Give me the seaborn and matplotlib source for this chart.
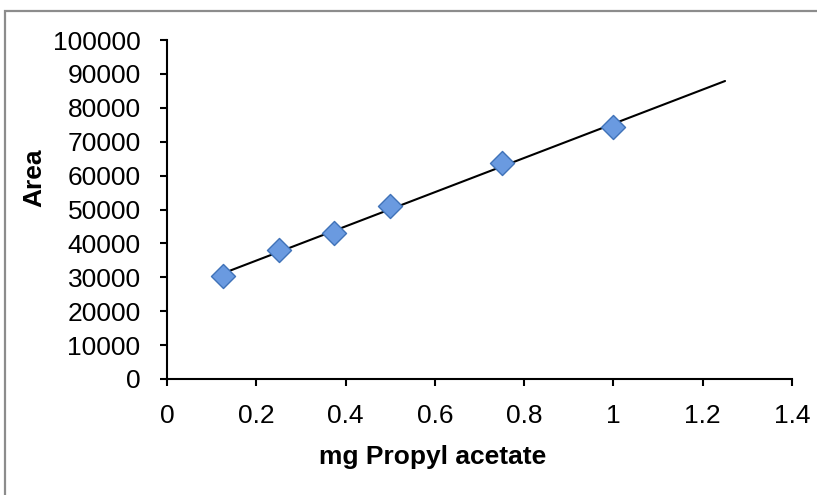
import numpy as np
import pandas as pd
import matplotlib
matplotlib.use("Agg")
import matplotlib.pyplot as plt
import seaborn as sns
from matplotlib.patches import Rectangle

mg_propyl_acetate = [0.125, 0.25, 0.375, 0.5, 0.75, 1.0]
area = [30400, 38000, 43000, 51000, 63700, 74300]
trend_x_end = 1.25
x_ticks = [0, 0.2, 0.4, 0.6, 0.8, 1, 1.2, 1.4]
x_tick_labels = ["0", "0.2", "0.4", "0.6", "0.8", "1", "1.2", "1.4"]
y_ticks = list(range(0, 100001, 10000))
y_tick_labels = [str(v) for v in y_ticks]

sns.set_theme(style="white")
plt.rcParams['font.family'] = ['Liberation Sans', 'DejaVu Sans']
plt.rcParams['text.color'] = 'black'
plt.rcParams['axes.labelcolor'] = 'black'

df = pd.DataFrame({"x": mg_propyl_acetate, "y": area})

fig = plt.figure(figsize=(8.17, 4.95), dpi=100)
ax = fig.add_axes([167/817, 1-379/495, (792-167)/817, (379-40)/495])

# trendline (linear regression, extended forward)
slope, intercept = np.polyfit(df["x"], df["y"], 1)
tx = np.array([min(mg_propyl_acetate), trend_x_end])
sns.lineplot(x=tx, y=slope*tx + intercept, ax=ax, color="black", linewidth=1.5, zorder=2)

sns.scatterplot(data=df, x="x", y="y", ax=ax, marker="D", s=150,
                color="#6a9ae0", edgecolor="#3f72b8", linewidth=1.0, zorder=3)

ax.set_xlim(0, 1.4)
ax.set_ylim(0, 100000)
ax.set_xticks(x_ticks)
ax.set_xticklabels(x_tick_labels)
ax.set_yticks(y_ticks)
ax.set_yticklabels(y_tick_labels)
ax.tick_params(axis="both", which="major", direction="out", length=5, width=1.5,
               color="black", labelsize=19, labelcolor="black")
ax.tick_params(axis="y", pad=14)
ax.tick_params(axis="x", pad=13)
ax.tick_params(bottom=True, left=True)

for side in ["top", "right"]:
    ax.spines[side].set_visible(False)
for side in ["left", "bottom"]:
    ax.spines[side].set_color("black")
    ax.spines[side].set_linewidth(1.5)

ax.set_xlabel("mg Propyl acetate", fontsize=19, fontweight="bold", color="black")
ax.set_ylabel("Area", fontsize=19, fontweight="bold", color="black")
ax.xaxis.set_label_coords((433-167)/625, -(457-379)/339)
ax.yaxis.set_label_coords(-(167-34)/625, (379-178)/339)
ax.xaxis.label.set_va("center")
ax.yaxis.label.set_va("center")

fig.patches.append(Rectangle((5/817, -0.1), 1.2, 1 - 11/495 + 0.1, transform=fig.transFigure,
                             fill=False, edgecolor="#8c8c8c", linewidth=1.6, zorder=0))

fig.savefig("out.png", dpi=100)
